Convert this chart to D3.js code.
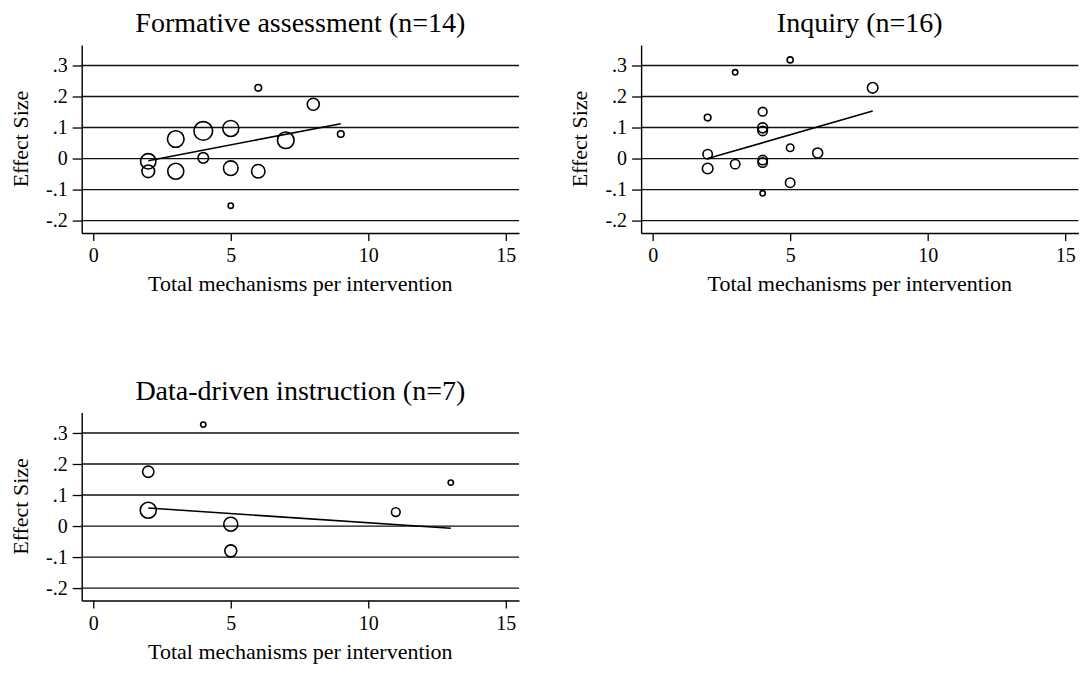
<!DOCTYPE html>
<html>
<head>
<meta charset="utf-8">
<script src="https://cdn.jsdelivr.net/npm/d3@7"></script>
<style>
  body { margin: 0; background: #fff; }
  text { font-family: "Liberation Serif", "Times New Roman", serif; fill: #000; }
</style>
</head>
<body>
<script>
const width = 1081;
const height = 675;

// data: x = total mechanisms, y = effect size, w = study weight (marker area)
const faX = [6, 8, 9, 7, 5, 4, 3, 4, 2, 2, 3, 5, 6, 5];
const faY = [0.228, 0.175, 0.079, 0.059, 0.097, 0.089, 0.063, 0.002, -0.009, -0.041, -0.041, -0.031, -0.041, -0.152];
const faW = [11, 36, 11, 69, 64, 87, 69, 28, 59, 40, 64, 53, 45, 7];
const faFitX = [2, 9];
const faFitY = [-0.007, 0.112];

const inX = [5, 3, 8, 2, 4, 4, 4, 5, 6, 2, 2, 3, 4, 4, 5, 4];
const inY = [0.318, 0.278, 0.228, 0.132, 0.151, 0.099, 0.089, 0.035, 0.018, 0.014, -0.032, -0.018, -0.005, -0.013, -0.078, -0.112];
const inW = [9, 7, 28, 11, 19, 25, 22, 14, 25, 22, 28, 22, 22, 22, 22, 7];
const inFitX = [2, 8];
const inFitY = [0.0, 0.153];

const ddX = [4, 2, 13, 2, 11, 5, 5];
const ddY = [0.327, 0.175, 0.140, 0.051, 0.045, 0.006, -0.080];
const ddW = [7, 32, 7, 64, 19, 49, 36];
const ddFitX = [2, 13];
const ddFitY = [0.058, -0.007];

const titles = ["Formative assessment (n=14)", "Inquiry (n=16)", "Data-driven instruction (n=7)"];
const xTicks = [0, 5, 10, 15];
const yTicks = [-0.2, -0.1, 0, 0.1, 0.2, 0.3];
const yTickLabels = ["-.2", "-.1", "0", ".1", ".2", ".3"];
const xTitle = "Total mechanisms per intervention";
const yTitle = "Effect Size";

const panels = [
    { title: titles[0], x: faX, y: faY, w: faW, fx: faFitX, fy: faFitY, left: 81.7, top: 45 },
    { title: titles[1], x: inX, y: inY, w: inW, fx: inFitX, fy: inFitY, left: 641.1, top: 45 },
    { title: titles[2], x: ddX, y: ddY, w: ddW, fx: ddFitX, fy: ddFitY, left: 81.7, top: 412.5 }
];

const pw = 437.3;   // plot width
const ph = 188;     // plot height

let svg = d3.select("body").append("svg")
    .attr("width", width)
    .attr("height", height);

let xScale = d3.scaleLinear().domain([-0.42, 15.48]).range([0, pw]);
let yScale = d3.scaleLinear().domain([-0.24, 0.366]).range([ph, 0]);
let rScale = d3.scaleSqrt().domain([0, 100]).range([0, 10]);

panels.forEach(p => drawPanel(p));

function drawPanel(p) {
    let g = svg.append("g")
        .attr("transform", "translate(" + p.left + "," + p.top + ")");

    // horizontal grid lines
    g.selectAll(".grid")
        .data(yTicks)
        .enter()
        .append("line")
        .attr("x1", 0)
        .attr("x2", pw)
        .attr("y1", d => yScale(d))
        .attr("y2", d => yScale(d))
        .attr("stroke", "#111")
        .attr("stroke-width", 1.3);

    // y axis
    let yAxis = d3.axisLeft(yScale)
        .tickValues(yTicks)
        .tickFormat((d, i) => yTickLabels[i])
        .tickSize(9)
        .tickSizeOuter(0)
        .tickPadding(5);
    let ya = g.append("g").call(yAxis);

    // x axis
    let xAxis = d3.axisBottom(xScale)
        .tickValues(xTicks)
        .tickSize(8)
        .tickSizeOuter(0)
        .tickPadding(7);
    let xa = g.append("g")
        .attr("transform", "translate(0," + ph + ")")
        .call(xAxis);

    [ya, xa].forEach(a => {
        a.select(".domain").attr("stroke", "#000").attr("stroke-width", 1.4);
        a.selectAll(".tick line").attr("stroke", "#000").attr("stroke-width", 1.3);
        a.selectAll(".tick text")
            .style("font-family", "'Liberation Serif', serif")
            .style("font-size", "20px")
            .attr("fill", "#000");
    });

    // weighted markers
    let pts = p.x.map((d, i) => ({ x: d, y: p.y[i], w: p.w[i] }));
    g.selectAll(".pt")
        .data(pts)
        .enter()
        .append("circle")
        .attr("cx", d => xScale(d.x))
        .attr("cy", d => yScale(d.y))
        .attr("r", d => rScale(d.w))
        .attr("fill", "none")
        .attr("stroke", "#000")
        .attr("stroke-width", 1.6);

    // fitted line
    let line = d3.line()
        .x(d => xScale(d[0]))
        .y(d => yScale(d[1]));
    g.append("path")
        .attr("d", line(p.fx.map((d, i) => [d, p.fy[i]])))
        .attr("fill", "none")
        .attr("stroke", "#000")
        .attr("stroke-width", 1.6);

    // titles
    g.append("text")
        .attr("x", pw / 2)
        .attr("y", -13)
        .attr("text-anchor", "middle")
        .style("font-size", "28px")
        .text(p.title);

    g.append("text")
        .attr("x", pw / 2)
        .attr("y", ph + 58)
        .attr("text-anchor", "middle")
        .style("font-size", "22px")
        .text(xTitle);

    g.append("text")
        .attr("transform", "translate(" + (-54) + "," + (ph / 2) + ") rotate(-90)")
        .attr("text-anchor", "middle")
        .style("font-size", "22px")
        .text(yTitle);
}
</script>
</body>
</html>
